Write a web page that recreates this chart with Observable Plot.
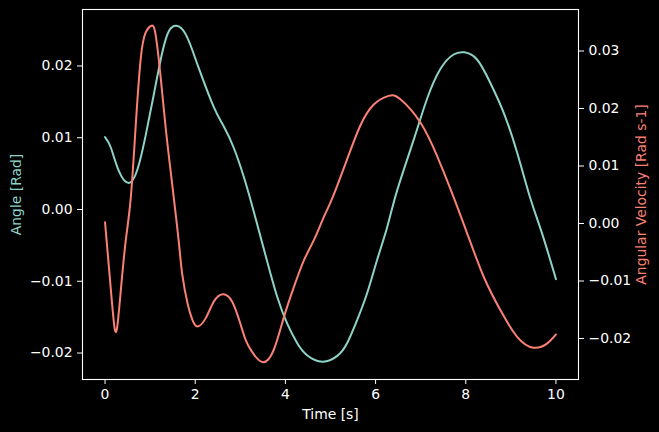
<!DOCTYPE html>
<html><head><meta charset="utf-8">
<script src="https://cdn.jsdelivr.net/npm/d3@7"></script>
<script src="https://cdn.jsdelivr.net/npm/@observablehq/plot@0.6"></script>
<style>html,body{margin:0;padding:0;background:#000;}</style>
</head><body><div id="chart"></div>
<script>
const angleTime  = [0.00, 0.13, 0.31, 0.53, 0.72, 0.90, 1.09, 1.27, 1.42, 1.58, 1.79, 2.01, 2.12, 2.41, 2.64, 2.86, 3.08, 3.29, 3.56, 3.82, 4.04, 4.26, 4.48, 4.82, 5.15, 5.37, 5.59, 5.81, 6.03, 6.26, 6.48, 6.85, 7.14, 7.44, 7.73, 7.97, 8.25, 8.54, 8.84, 9.14, 9.43, 9.69, 10.00];
const angleValue = [0.0101, 0.0086, 0.0053, 0.0037, 0.0056, 0.0103, 0.0163, 0.0219, 0.0249, 0.0256, 0.0244, 0.0209, 0.0190, 0.0143, 0.0115, 0.0085, 0.0045, -0.0001, -0.0064, -0.0122, -0.0159, -0.0186, -0.0203, -0.0212, -0.0204, -0.0186, -0.0154, -0.0117, -0.0071, -0.0024, 0.0027, 0.0098, 0.0154, 0.0196, 0.0216, 0.0219, 0.0209, 0.0177, 0.0135, 0.0079, 0.0016, -0.0033, -0.0097];

const velocityTime  = [0.00, 0.13, 0.21, 0.27, 0.35, 0.46, 0.57, 0.68, 0.79, 0.90, 1.03, 1.12, 1.23, 1.34, 1.45, 1.53, 1.64, 1.71, 1.83, 1.94, 2.05, 2.23, 2.41, 2.61, 2.82, 3.00, 3.12, 3.25, 3.49, 3.74, 3.97, 4.19, 4.41, 4.63, 4.85, 5.04, 5.37, 5.66, 5.96, 6.29, 6.55, 6.99, 7.36, 7.67, 8.03, 8.40, 8.77, 9.14, 9.50, 9.80, 10.00];
const velocityValue = [0.0002, -0.0116, -0.0181, -0.0180, -0.0116, -0.0029, 0.0044, 0.0170, 0.0286, 0.0332, 0.0344, 0.0329, 0.0257, 0.0170, 0.0094, 0.0041, -0.0035, -0.0087, -0.0139, -0.0168, -0.0179, -0.0165, -0.0136, -0.0123, -0.0136, -0.0174, -0.0203, -0.0222, -0.0241, -0.0220, -0.0162, -0.0110, -0.0064, -0.0029, 0.0011, 0.0044, 0.0112, 0.0170, 0.0207, 0.0222, 0.0216, 0.0176, 0.0118, 0.0058, -0.0017, -0.0093, -0.0151, -0.0197, -0.0216, -0.0209, -0.0193];

const xTicks = [0, 2, 4, 6, 8, 10];
const leftTicks = [-0.02, -0.01, 0.00, 0.01, 0.02];
const rightTicks = [-0.02, -0.01, 0.00, 0.01, 0.02, 0.03];
const xDomain = [-0.5, 10.5];
const leftDomain = [-0.02369, 0.02787];
const rightDomain = [-0.02713, 0.03722];

const teal = "#8dd3c7", red = "#fa8174";
const FS = 13.9;
const toLeft = d3.scaleLinear(rightDomain, leftDomain);
const angle = angleTime.map((t, i) => ({t, v: angleValue[i]}));
const velocity = velocityTime.map((t, i) => ({t, v: velocityValue[i]}));
const fmt = d3.format(".2f");

const chart = Plot.plot({
  width: 659, height: 432,
  marginLeft: 82, marginRight: 81, marginTop: 9, marginBottom: 53,
  style: {background: "#000", color: "#fff", fontFamily: "'DejaVu Sans', sans-serif", fontSize: FS + "px"},
  x: {domain: xDomain},
  y: {domain: leftDomain},
  marks: [
    Plot.line(angle, {x: "t", y: "v", stroke: teal, strokeWidth: 2, curve: "natural"}),
    Plot.line(velocity, {x: "t", y: d => toLeft(d.v), stroke: red, strokeWidth: 2, curve: "natural"}),
    Plot.frame({stroke: "#fff", strokeWidth: 1.1}),
    Plot.axisX({ticks: xTicks, tickSize: 5, tickPadding: 5, label: null, tickFormat: d3.format("d"), fontSize: FS}),
    Plot.axisY({ticks: leftTicks, anchor: "left", tickSize: 5, tickPadding: 5, tickFormat: fmt, label: null, fontSize: FS}),
    Plot.axisY({ticks: rightTicks.map(v => toLeft(v)), anchor: "right", tickSize: 5, tickPadding: 5,
      tickFormat: d => fmt(Math.round(toLeft.invert(d) * 1000) / 1000), label: null, fontSize: FS}),
    Plot.text(["Angle [Rad]"], {frameAnchor: "left", dx: -66, rotate: -90, textAnchor: "middle", lineAnchor: "middle", fill: teal, fontSize: FS}),
    Plot.text(["Angular Velocity [Rad s-1]"], {frameAnchor: "right", dx: 63, rotate: -90, textAnchor: "middle", lineAnchor: "middle", fill: red, fontSize: FS}),
    Plot.text(["Time [s]"], {frameAnchor: "bottom", dy: 35, textAnchor: "middle", lineAnchor: "middle", fill: "#fff", fontSize: FS})
  ]
});
document.getElementById("chart").appendChild(chart);
</script>
</body></html>
